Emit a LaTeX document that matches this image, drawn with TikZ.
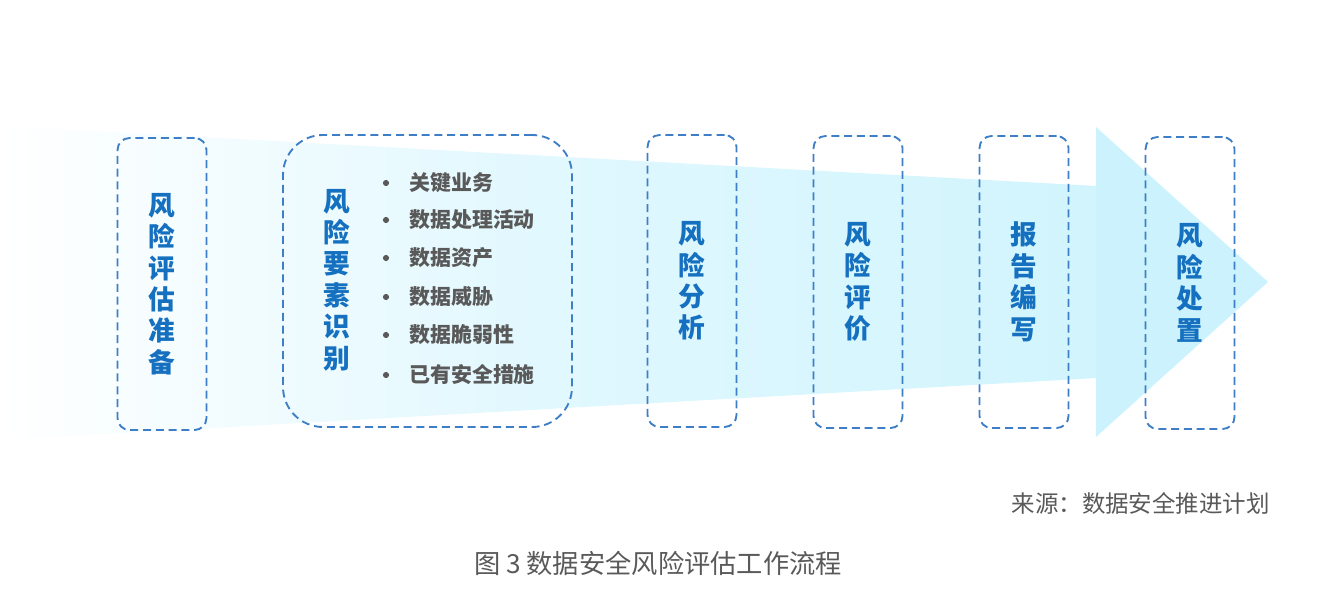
\documentclass[tikz,border=0pt]{standalone}
\usepackage{fontspec}
\setmainfont{Noto Sans CJK SC}
\usetikzlibrary{positioning}

\definecolor{arrowcyan}{HTML}{CCF3FD}
\definecolor{dashblue}{HTML}{3D7EC6}
\definecolor{titleblue}{HTML}{1570C0}
\definecolor{textgray}{HTML}{595959}

\tikzset{
  stageframe/.style={draw=dashblue, line width=1.4pt, dash pattern=on 6pt off 3.6pt,
    rounded corners=9pt, minimum width=66.75pt, minimum height=219pt},
  stagetitle/.style={align=center, text=titleblue, inner sep=0pt,
    font=\fontsize{20}{23.6}\selectfont\bfseries},
  itemtext/.style={anchor=west, text=textgray, inner sep=0pt,
    font=\fontsize{15.7}{18}\selectfont\bfseries},
  notetext/.style={text=textgray, inner sep=0pt}
}

\begin{document}
\begin{tikzpicture}[x=0.75pt,y=-0.75pt]
  \useasboundingbox (0,0) rectangle (1328,614);

  % Big arrow: shaft and head
  \shade[left color=white, right color=arrowcyan!90!white, middle color=arrowcyan!60!white]
    (0,126) -- (1097,186) -- (1097,378) -- (0,440) -- cycle;
  \fill[arrowcyan] (1096,127) -- (1268,282) -- (1096,437) -- cycle;

  % Stages
  \node[stageframe, stagetitle] (prep) at (162,284) {风\\险\\评\\估\\准\\备};
  \node[stageframe, rounded corners=30pt, minimum width=216.75pt] (ident) at (427.5,281) {};
  \node[stagetitle] (identtitle) at (337,280) {风\\险\\要\\素\\识\\别};
  \node[stageframe, stagetitle] (analysis) at (692,281) {风\\险\\分\\析};
  \node[stageframe, stagetitle] (evaluate) at (858,282) {风\\险\\评\\价};
  \node[stageframe, stagetitle] (report) at (1024,282) {报\\告\\编\\写};
  \node[stageframe, stagetitle] (treat) at (1190,283) {风\\险\\处\\置};

  % Elements to identify
  \foreach \y/\name/\label in {183/a/关键业务, 220/b/数据处理活动, 258/c/数据资产,
      297/d/数据威胁, 335/e/数据脆弱性, 375/f/已有安全措施} {
    \fill[textgray] (386,\y) circle (2.3pt);
    \node[itemtext] (item\name) at (409,\y) {\label};
  }

  % Source and caption
  \node[notetext, anchor=east, font=\fontsize{17.6}{20}\selectfont] (source) at (1270,503) {来源：数据安全推进计划};
  \node[notetext, font=\fontsize{19.7}{22}\selectfont] (caption) at (658,563) {图 3 数据安全风险评估工作流程};
\end{tikzpicture}
\end{document}
